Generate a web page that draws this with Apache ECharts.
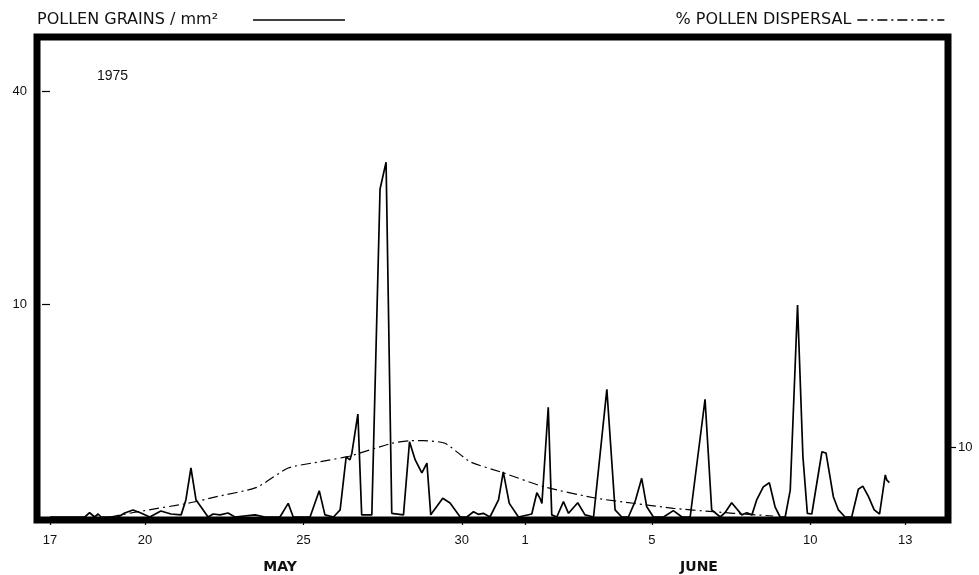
<!DOCTYPE html>
<html>
<head>
<meta charset="utf-8">
<title>Pollen grains and pollen dispersal, 1975</title>
<script src="https://cdn.jsdelivr.net/npm/echarts@6/dist/echarts.min.js"></script>
<style>
  html, body { margin: 0; padding: 0; background: #fff; }
  #chart { width: 979px; height: 575px; }
</style>
</head>
<body>
<div id="chart"></div>
<script>
// Days counted from 17 May 1975 (day 0). May has 31 days, so 1 June = day 15.
const tickDays   = [0, 3, 8, 13, 15, 19, 24, 27];
const tickLabels = ['17', '20', '25', '30', '1', '5', '10', '13'];

// Pollen grains per mm² (left axis, square-root scale)
const pollenDays = [
  0, 1.10, 1.25, 1.41, 1.52, 1.61, 2.15, 2.36, 2.62, 2.87,
  3.15, 3.50, 3.82, 4.14, 4.29, 4.45, 4.61, 4.77, 4.99, 5.15,
  5.37, 5.62, 5.84, 6.47, 6.79, 7.26, 7.52, 7.68, 8.21, 8.50,
  8.68, 8.95, 9.16, 9.35, 9.47, 9.53, 9.72, 9.84, 10.16, 10.42,
  10.61, 10.79, 11.16, 11.35, 11.53, 11.74, 11.90, 12.02, 12.40, 12.63,
  12.95, 13.16, 13.37, 13.52, 13.68, 13.89, 14.16, 14.31, 14.50, 14.79,
  15.21, 15.37, 15.47, 15.53, 15.73, 15.84, 16.00, 16.21, 16.37, 16.66,
  16.89, 17.16, 17.58, 17.84, 18.05, 18.26, 18.47, 18.68, 18.84, 19.05,
  19.37, 19.68, 19.95, 20.21, 20.68, 20.89, 21.16, 21.31, 21.52, 21.84,
  22.00, 22.16, 22.31, 22.52, 22.71, 22.89, 23.05, 23.21, 23.37, 23.60,
  23.77, 23.91, 24.05, 24.37, 24.50, 24.73, 24.89, 25.10, 25.31, 25.52,
  25.66, 25.84, 26.02, 26.19, 26.37, 26.42, 26.50
];
const pollenValues = [
  0, 0, 0.004, 0, 0.002, 0, 0, 0.0035, 0.011, 0.0035,
  0, 0.008, 0.002, 0.001, 0.064, 0.53, 0.064, 0.022, 0, 0.002,
  0.001, 0.0035, 0, 0.001, 0, 0, 0.041, 0, 0, 0.153,
  0.001, 0, 0.011, 0.80, 0.72, 0.90, 2.34, 0.001, 0.001, 23.75,
  27.8, 0.003, 0.001, 1.25, 0.72, 0.43, 0.64, 0.001, 0.077, 0.043,
  0, 0, 0.006, 0.0016, 0.003, 0, 0.064, 0.45, 0.041, 0,
  0.002, 0.13, 0.077, 0.041, 2.66, 0.001, 0, 0.052, 0.003, 0.045,
  0.001, 0, 3.60, 0.011, 0, 0, 0.052, 0.33, 0.023, 0,
  0, 0.009, 0, 0, 3.06, 0.011, 0, 0.004, 0.045, 0.001,
  0.004, 0.001, 0.064, 0.20, 0.26, 0.023, 0, 0, 0.16, 9.92,
  0.80, 0.003, 0.002, 0.94, 0.90, 0.091, 0.011, 0, 0, 0.17,
  0.21, 0.091, 0.011, 0.002, 0.39, 0.30, 0.26
];

// % pollen dispersal (right axis, linear)
const dispersalDays   = [1.89, 2.78, 4.36, 5.26, 6.53, 7.52, 8.53, 9.47, 10.79, 11.37, 11.78, 12.47, 13.26, 14.30, 15.58, 17.26, 18.42, 19.68, 20.94, 21.57, 22.83];
const dispersalValues = [0, 0.76, 1.96, 2.9, 4.24, 7.0, 7.9, 8.71, 10.53, 10.9, 10.9, 10.53, 7.9, 6.33, 4.33, 2.67, 1.96, 1.24, 0.76, 0.53, 0.14];

const leftTickValues  = [10, 40];
const rightTickValues = [10];

const pollenName = 'POLLEN GRAINS / mm²';
const dispersalName = '% POLLEN DISPERSAL';

const font = '"Liberation Sans", Arial, sans-serif';
const legendFont = '"DejaVu Sans", "Liberation Sans", sans-serif';

const chart = echarts.init(document.getElementById('chart'), null, { renderer: 'canvas' });

const legendBase = {
  align: 'right',
  itemHeight: 12,
  selectedMode: false,
  itemStyle: { opacity: 0 },
  lineStyle: { width: 1.3 }
};

const option = {
  animation: false,
  backgroundColor: '#fff',
  grid: {
    left: 37, right: 31, top: 37, bottom: 55,
    show: true,
    borderColor: '#000',
    borderWidth: 7,
    backgroundColor: 'transparent'
  },
  title: {
    text: '1975',
    left: 92, top: 64,
    textStyle: { fontFamily: font, fontSize: 14, fontWeight: 'normal', color: '#111' }
  },
  legend: [
    Object.assign({}, legendBase, {
      data: [pollenName],
      left: 32, top: 7,
      itemWidth: 92,
      textStyle: { fontFamily: legendFont, fontSize: 16, color: '#111', padding: [0, 30, 6, 0] }
    }),
    Object.assign({}, legendBase, {
      data: [dispersalName],
      right: 29, top: 7,
      itemWidth: 87,
      textStyle: { fontFamily: legendFont, fontSize: 16, color: '#111', padding: [0, 1, 6, 0] }
    })
  ],
  xAxis: {
    type: 'value',
    min: -0.41, max: 28.35,
    splitLine: { show: false },
    axisLine: { show: false },
    axisTick: { show: true, length: 8, customValues: tickDays, lineStyle: { color: '#000', width: 1.2 } },
    axisLabel: {
      customValues: tickDays,
      margin: 14,
      fontFamily: font, fontSize: 13, color: '#111',
      formatter: v => {
        const i = tickDays.findIndex(d => Math.abs(d - v) < 1e-6);
        return i >= 0 ? tickLabels[i] : '';
      }
    }
  },
  yAxis: [
    {
      // square-root scale: positions are sqrt(value)
      type: 'value',
      position: 'left',
      min: -0.0446, max: 7.132,
      splitLine: { show: false },
      axisLine: { show: false },
      axisTick: { show: true, length: 8, customValues: leftTickValues.map(Math.sqrt), lineStyle: { color: '#000', width: 1.2 } },
      axisLabel: {
        customValues: leftTickValues.map(Math.sqrt),
        margin: 10,
        fontFamily: font, fontSize: 13, color: '#111',
        formatter: v => String(Math.round(v * v))
      }
    },
    {
      type: 'value',
      position: 'right',
      min: -0.43, max: 68.57,
      splitLine: { show: false },
      axisLine: { show: false },
      axisTick: { show: true, length: 8, customValues: rightTickValues, lineStyle: { color: '#000', width: 1.2 } },
      axisLabel: {
        customValues: rightTickValues,
        margin: 10,
        fontFamily: font, fontSize: 13, color: '#111'
      }
    }
  ],
  series: [
    {
      name: pollenName,
      type: 'line',
      yAxisIndex: 0,
      symbol: 'none',
      data: pollenDays.map((d, i) => [d, Math.sqrt(pollenValues[i])]),
      lineStyle: { color: '#000', width: 1.7 },
      itemStyle: { color: '#000' },
      z: 3
    },
    {
      name: dispersalName,
      type: 'line',
      yAxisIndex: 1,
      symbol: 'none',
      smooth: 0.2,
      data: dispersalDays.map((d, i) => [d, dispersalValues[i]]),
      lineStyle: { color: '#000', width: 1.2, type: [10, 4, 2, 4] },
      itemStyle: { color: '#000' },
      z: 2
    }
  ],
  graphic: [
    {
      type: 'text', x: 280, y: 567,
      style: { text: 'MAY', fontFamily: legendFont, fontSize: 14, fontWeight: 'bold', fill: '#111', align: 'center', verticalAlign: 'middle' }
    },
    {
      type: 'text', x: 699, y: 567,
      style: { text: 'JUNE', fontFamily: legendFont, fontSize: 14, fontWeight: 'bold', fill: '#111', align: 'center', verticalAlign: 'middle' }
    }
  ]
};

chart.setOption(option);
</script>
</body>
</html>
